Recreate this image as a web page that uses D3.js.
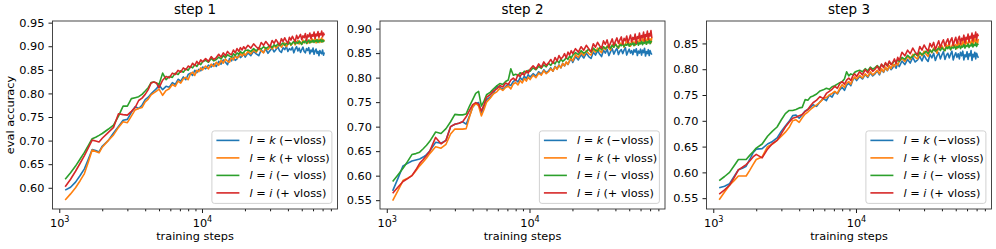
<!DOCTYPE html>
<meta charset="utf-8">
<style>
body { margin: 0; background: #fff; }
svg text { font-family: "DejaVu Sans", sans-serif; fill: #000; }
.frame { fill: none; stroke: #333; stroke-width: 0.9; }
.tick line { stroke: #000; stroke-width: 0.9; }
.domain { display: none; }
.legend rect { fill: #fff; fill-opacity: 0.8; stroke: #ccc; stroke-width: 0.9; }
</style>
<svg width="996" height="249"></svg>
<script src="https://cdn.jsdelivr.net/npm/d3@7"></script>
<script>

// evaluation schedule (training steps)
var steps = [].concat(
  d3.range(1100, 2001, 100),
  d3.range(2200, 5001, 200),
  d3.range(5300, 10101, 300),
  d3.range(10600, 20101, 500),
  d3.range(21000, 72001, 1000));

// eval accuracy x1000
var s1_kNeg = [595,601,612,626,640,661,681,679,676,688,
  700,716,730,743,745,760,772,768,775,787,792,799,805,810,818,
  808,815,813,823,819,830,826,835,829,840,843,838,849,844,851,848,856,
  852,860,856,863,857,868,862,871,866,861,874,869,877,870,873,882,876,879,884,877,
  886,880,889,884,880,892,887,894,885,891,896,888,893,899,890,887,897,893,900,889,
  895,892,898,886,894,899,890,896,887,893,898,889,886,895,891,897,884,892,888,896,
  883,890,894,885,889,880,891,886,884,892,881,887];
var s1_kPos = [574,587,600,615,630,655,680,677,674,686,
  700,712,728,740,738,752,765,768,770,782,788,797,801,805,809,
  796,806,810,819,815,826,822,831,834,829,841,845,838,849,846,854,850,
  858,852,862,857,866,860,870,864,873,868,866,877,871,880,875,878,884,879,886,881,
  889,884,892,887,895,890,886,897,893,899,894,902,896,900,905,898,903,907,899,904,
  908,902,906,910,903,908,912,905,909,904,913,907,911,915,906,910,913,908,916,909,
  912,917,907,914,910,916,908,913,918,909,914,911];
var s1_iNeg = [618,632,646,661,675,690,704,707,711,715,
  724,733,752,773,773,789,791,793,798,805,812,823,824,822,819,
  843,829,836,834,843,840,848,845,852,849,857,854,861,857,864,861,867,
  870,866,874,869,872,877,873,880,876,882,879,877,884,880,886,883,889,885,887,891,
  892,889,895,890,897,894,899,895,898,902,897,903,900,905,901,904,907,902,906,904,
  908,903,907,910,905,909,906,911,907,904,910,908,912,906,910,913,907,911,909,913,
  908,912,910,914,908,912,911,914,909,913,910,912];
var s1_iPos = [602,618,635,652,668,685,701,699,697,705,
  717,728,757,755,754,762,770,785,790,798,808,822,824,822,812,
  828,836,833,843,840,849,845,854,850,858,855,864,859,868,862,871,867,
  874,868,878,872,876,883,877,886,880,889,884,882,892,886,895,889,897,892,899,894,
  902,896,905,899,894,908,902,910,904,899,912,906,914,908,903,916,910,918,911,906,
  919,913,921,915,910,923,916,920,925,914,922,918,927,912,924,920,928,916,925,921,
  930,917,926,922,931,919,927,924,932,920,928,923];

var s2_kNeg = [569,595,620,625,630,632,634,638,643,650,
  668,666,672,700,705,707,710,705,722,740,747,749,728,740,755,
  760,768,783,780,776,782,786,784,792,796,791,800,795,803,798,806,801,
  808,803,812,807,816,810,814,820,813,823,818,826,820,829,824,831,827,834,838,831,
  843,836,847,840,850,843,839,852,846,855,848,843,856,850,858,845,853,859,848,855,
  860,847,854,857,849,856,861,846,853,858,850,855,847,857,852,859,845,854,850,858,
  846,856,851,860,844,853,849,857,845,855,850,847];
var s2_kPos = [549,570,590,595,600,610,620,628,636,645,
  659,656,664,685,695,695,695,696,720,740,748,742,722,735,750,
  758,767,771,778,774,780,783,777,787,790,785,794,789,798,793,801,796,
  805,800,809,805,814,808,812,818,813,822,817,825,820,829,824,832,827,835,840,834,
  847,841,851,845,855,849,846,858,852,860,855,851,863,857,865,860,856,867,862,869,
  864,860,871,866,873,862,869,875,867,871,864,876,870,873,866,878,872,869,879,874,
  870,880,875,872,881,868,877,883,874,879,871,882];
var s2_iNeg = [588,602,615,629,643,645,648,655,662,670,
  689,686,696,710,725,724,724,726,742,755,768,772,742,752,765,
  770,777,783,788,786,792,795,818,805,807,804,810,807,813,810,815,813,
  820,816,823,819,826,822,829,825,832,828,835,830,838,833,836,841,837,844,840,846,
  851,847,855,850,853,858,852,860,856,854,861,857,863,859,862,865,860,866,862,868,
  864,861,867,865,869,863,868,866,870,864,869,867,871,865,870,868,873,866,871,869,
  874,867,872,870,875,868,873,871,876,869,874,872];
var s2_iPos = [564,577,588,594,600,612,625,633,641,650,
  678,665,672,700,705,707,710,720,733,745,749,746,732,745,760,
  765,773,777,784,781,789,786,795,799,794,806,802,810,805,814,809,817,
  824,818,828,821,832,825,830,837,829,841,834,845,838,842,849,840,852,846,855,849,
  859,852,863,856,866,859,853,869,862,872,865,860,875,868,877,862,871,879,866,874,
  881,870,877,883,868,880,875,885,871,879,887,873,882,877,889,870,884,880,891,876,
  886,882,893,875,888,884,895,878,890,885,896,881];

var s3_kNeg = [570,573,578,592,605,608,612,625,638,645,
  646,655,660,667,680,690,699,710,711,705,712,719,722,726,731,
  728,737,743,739,750,746,756,752,760,765,759,769,773,768,779,784,778,
  786,781,790,784,793,787,791,797,789,800,794,803,797,806,799,803,809,802,811,805,
  816,809,819,812,823,814,818,825,816,827,820,815,829,822,831,817,826,832,820,828,
  834,819,827,831,822,829,835,818,826,832,823,830,820,833,826,835,818,828,824,834,
  819,830,826,836,817,829,824,833,820,831,826,822];
var s3_kPos = [547,562,575,584,593,593,593,604,615,625,
  630,650,655,662,670,678,687,700,702,697,706,713,717,722,726,
  731,736,743,745,750,753,757,753,763,770,765,773,776,771,780,785,781,
  788,783,791,786,795,789,793,798,791,801,795,804,798,807,801,810,805,813,808,815,
  821,815,825,819,829,823,820,832,826,835,829,825,838,832,841,836,831,844,838,846,
  840,836,848,842,850,838,845,851,843,848,840,853,846,850,843,855,848,845,856,850,
  847,857,852,849,858,845,854,860,851,856,849,859];
var s3_iNeg = [584,592,600,613,625,625,625,633,640,647,
  655,670,680,688,702,714,720,720,722,725,726,741,740,746,748,
  752,758,760,763,761,766,768,771,774,776,781,795,787,791,789,794,796,
  798,795,801,797,804,800,803,807,802,809,805,811,807,814,810,812,817,813,819,815,
  823,819,827,822,825,830,826,833,828,831,835,830,837,833,839,835,838,841,836,842,
  838,836,843,840,844,838,843,841,845,839,844,842,846,840,845,843,848,841,846,844,
  849,842,847,845,850,843,848,846,851,844,849,847];
var s3_iPos = [558,566,575,590,605,610,615,622,630,635,
  628,645,656,662,675,688,697,705,707,710,712,718,722,729,735,
  740,747,743,753,757,761,767,763,772,776,771,779,783,778,787,791,786,
  795,789,799,793,802,796,800,806,798,810,803,813,806,816,809,813,820,811,823,817,
  833,826,837,830,841,833,828,844,837,847,840,835,850,843,852,838,847,855,842,851,
  857,845,853,859,848,856,861,846,855,862,850,858,864,849,860,856,866,851,862,858,
  868,853,864,860,870,855,866,862,872,857,868,864];

var titles = ["step 1", "step 2", "step 3"];
var yTicks1 = [0.60, 0.65, 0.70, 0.75, 0.80, 0.85, 0.90, 0.95];
var yTicks2 = [0.55, 0.60, 0.65, 0.70, 0.75, 0.80, 0.85, 0.90];
var yTicks3 = [0.55, 0.60, 0.65, 0.70, 0.75, 0.80, 0.85];
var xMajor = [1000, 10000];
var xMinor = [2000,3000,4000,5000,6000,7000,8000,9000,20000,30000,40000,50000,60000,70000,80000];
var seriesNames = [["l", "k", "(\u2212vloss)"], ["l", "k", "(+ vloss)"], ["l", "i", "(\u2212 vloss)"], ["l", "i", "(+ vloss)"]];
var colors = ["#1f77b4", "#ff7f0e", "#2ca02c", "#d62728"];

var panels = [
  { title: titles[0], ticks: yTicks1, ydom: [0.555, 0.9535], series: [s1_kNeg, s1_kPos, s1_iNeg, s1_iPos] },
  { title: titles[1], ticks: yTicks2, ydom: [0.532, 0.9155], series: [s2_kNeg, s2_kPos, s2_iNeg, s2_iPos] },
  { title: titles[2], ticks: yTicks3, ydom: [0.529, 0.8935], series: [s3_kNeg, s3_kPos, s3_iNeg, s3_iPos] }
];

var svg = d3.select("svg");
var W = 285, plotTop = 21, plotBottom = 209;
var lefts = [52.5, 380, 706.5];
var fs = 11.3;

panels.forEach(function(p, pi) {
  var x0 = lefts[pi];
  var x = d3.scaleLog().domain([896.5, 89030]).range([x0, x0 + W]);
  var y = d3.scaleLinear().domain(p.ydom).range([plotBottom, plotTop]);
  var g = svg.append("g");

  var line = d3.line()
    .defined(function(d, i) { return steps[i] != null; })
    .x(function(d, i) { return x(steps[i]); })
    .y(function(d) { return y(d / 1000); });

  p.series.forEach(function(s, si) {
    g.append("path")
      .attr("d", line(s))
      .attr("fill", "none")
      .attr("stroke", colors[si])
      .attr("stroke-width", 1.6)
      .attr("stroke-linejoin", "round");
  });

  // x axis: minor then major ticks
  g.append("g")
    .attr("transform", "translate(0," + plotBottom + ")")
    .call(d3.axisBottom(x).tickValues(xMinor).tickSize(2.3).tickFormat(""));
  var xa = g.append("g")
    .attr("transform", "translate(0," + plotBottom + ")")
    .call(d3.axisBottom(x).tickValues(xMajor).tickSize(4).tickPadding(5.5));
  xa.attr("font-size", fs).attr("font-family", null);
  xa.selectAll(".tick text").each(function(d) {
    var t = d3.select(this).text("10");
    t.append("tspan").attr("dy", "-0.5em").attr("font-size", "0.72em").text(Math.round(Math.log10(d)));
  });

  var ya = g.append("g")
    .attr("transform", "translate(" + x0 + ",0)")
    .call(d3.axisLeft(y).tickValues(p.ticks).tickSize(4).tickPadding(4).tickFormat(d3.format(".2f")));
  ya.attr("font-size", fs).attr("font-family", null);

  g.append("rect").attr("class", "frame")
    .attr("x", x0).attr("y", plotTop).attr("width", W).attr("height", plotBottom - plotTop);

  g.append("text")
    .attr("x", x0 + W / 2).attr("y", 13.5)
    .attr("text-anchor", "middle").attr("font-size", 13.5)
    .text(p.title);

  g.append("text")
    .attr("x", x0 + W / 2).attr("y", 240)
    .attr("text-anchor", "middle").attr("font-size", fs)
    .text("training steps");

  if (pi === 0) {
    g.append("text")
      .attr("transform", "translate(13.5," + ((plotTop + plotBottom) / 2) + ") rotate(-90)")
      .attr("text-anchor", "middle").attr("font-size", fs)
      .text("eval accuracy");
  }

  // legend
  var lw = 120, lh = 72.5;
  var lg = g.append("g").attr("class", "legend")
    .attr("transform", "translate(" + (x0 + W - 5.6 - lw) + "," + (plotBottom - 5.6 - lh) + ")");
  lg.append("rect").attr("width", lw).attr("height", lh).attr("rx", 2.5);
  seriesNames.forEach(function(n, i) {
    var cy = 9.5 + i * 17.5;
    lg.append("line")
      .attr("x1", 4.5).attr("x2", 27.5).attr("y1", cy).attr("y2", cy)
      .attr("stroke", colors[i]).attr("stroke-width", 1.6);
    var t = lg.append("text").attr("x", 37.5).attr("y", cy + 4).attr("font-size", fs);
    t.append("tspan").attr("font-style", "italic").text(n[0]);
    t.append("tspan").text(" = ");
    t.append("tspan").attr("font-style", "italic").text(n[1]);
    t.append("tspan").text(" " + n[2]);
  });
});

</script>
